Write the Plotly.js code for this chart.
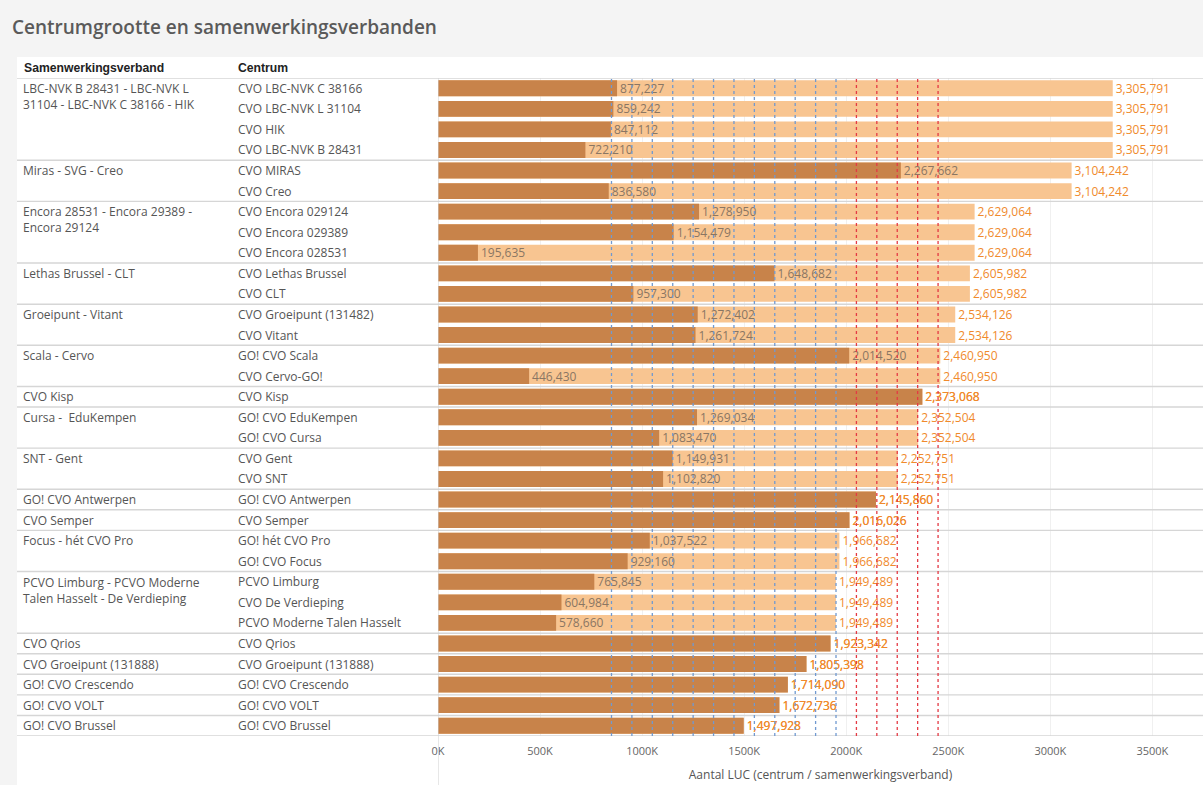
<!DOCTYPE html>
<html>
<head>
<meta charset="utf-8">
<script src="https://cdn.plot.ly/plotly-3.0.1.min.js"></script>
<style>
  html, body { margin: 0; padding: 0; background: #f4f4f4; }
  #chart { width: 1203px; height: 785px; }
</style>
</head>
<body>
<div id="chart"></div>
<script>
// ---------- DATA ----------
const chartTitle = "Centrumgrootte en samenwerkingsverbanden";
const headerVerband = "Samenwerkingsverband";
const headerCentrum = "Centrum";
const axisTitle = "Aantal LUC (centrum / samenwerkingsverband)";

const verband = [
  "LBC-NVK B 28431 - LBC-NVK L 31104 - LBC-NVK C 38166 - HIK",
  "LBC-NVK B 28431 - LBC-NVK L 31104 - LBC-NVK C 38166 - HIK",
  "LBC-NVK B 28431 - LBC-NVK L 31104 - LBC-NVK C 38166 - HIK",
  "LBC-NVK B 28431 - LBC-NVK L 31104 - LBC-NVK C 38166 - HIK",
  "Miras - SVG - Creo",
  "Miras - SVG - Creo",
  "Encora 28531 - Encora 29389 - Encora 29124",
  "Encora 28531 - Encora 29389 - Encora 29124",
  "Encora 28531 - Encora 29389 - Encora 29124",
  "Lethas Brussel - CLT",
  "Lethas Brussel - CLT",
  "Groeipunt - Vitant",
  "Groeipunt - Vitant",
  "Scala - Cervo",
  "Scala - Cervo",
  "CVO Kisp",
  "Cursa -  EduKempen",
  "Cursa -  EduKempen",
  "SNT - Gent",
  "SNT - Gent",
  "GO! CVO Antwerpen",
  "CVO Semper",
  "Focus - hét CVO Pro",
  "Focus - hét CVO Pro",
  "PCVO Limburg - PCVO Moderne Talen Hasselt - De Verdieping",
  "PCVO Limburg - PCVO Moderne Talen Hasselt - De Verdieping",
  "PCVO Limburg - PCVO Moderne Talen Hasselt - De Verdieping",
  "CVO Qrios",
  "CVO Groeipunt (131888)",
  "GO! CVO Crescendo",
  "GO! CVO VOLT",
  "GO! CVO Brussel"
];

const centrum = [
  "CVO LBC-NVK C 38166",
  "CVO LBC-NVK L 31104",
  "CVO HIK",
  "CVO LBC-NVK B 28431",
  "CVO MIRAS",
  "CVO Creo",
  "CVO Encora 029124",
  "CVO Encora 029389",
  "CVO Encora 028531",
  "CVO Lethas Brussel",
  "CVO CLT",
  "CVO Groeipunt (131482)",
  "CVO Vitant",
  "GO! CVO Scala",
  "CVO Cervo-GO!",
  "CVO Kisp",
  "GO! CVO EduKempen",
  "GO! CVO Cursa",
  "CVO Gent",
  "CVO SNT",
  "GO! CVO Antwerpen",
  "CVO Semper",
  "GO! hét CVO Pro",
  "GO! CVO Focus",
  "PCVO Limburg",
  "CVO De Verdieping",
  "PCVO Moderne Talen Hasselt",
  "CVO Qrios",
  "CVO Groeipunt (131888)",
  "GO! CVO Crescendo",
  "GO! CVO VOLT",
  "GO! CVO Brussel"
];

const centrumLUC = [
  877227, 859242, 847112, 722210,
  2267662, 836580,
  1278950, 1154479, 195635,
  1648682, 957300,
  1272402, 1261724,
  2014520, 446430,
  2373068,
  1269034, 1083470,
  1149931, 1102820,
  2145860,
  2016026,
  1037522, 929160,
  765845, 604984, 578660,
  1923342,
  1805398,
  1714090,
  1672736,
  1497928
];

const verbandLUC = [
  3305791, 3305791, 3305791, 3305791,
  3104242, 3104242,
  2629064, 2629064, 2629064,
  2605982, 2605982,
  2534126, 2534126,
  2460950, 2460950,
  2373068,
  2352504, 2352504,
  2252751, 2252751,
  2145860,
  2016026,
  1966682, 1966682,
  1949489, 1949489, 1949489,
  1923342,
  1805398,
  1714090,
  1672736,
  1497928
];

const tickValues = [0, 500000, 1000000, 1500000, 2000000, 2500000, 3000000, 3500000];
const tickLabels = ["0K", "500K", "1000K", "1500K", "2000K", "2500K", "3000K", "3500K"];

const blueRefLines = [850000, 950000, 1050000, 1150000, 1250000, 1350000, 1450000, 1550000, 1650000, 1750000, 1850000, 1950000];
const redRefLines = [2050000, 2150000, 2250000, 2350000, 2450000];

// ---------- STYLE / GEOMETRY ----------
const W = 1203, H = 785, ML = 438, MR = 0, MT = 78, MB = 49;
const PW = W - ML - MR, PH = H - MT - MB;
const fx = px => (px - ML) / PW;
const fy = py => (H - MB - py) / PH;

const FONT = "Open Sans, Noto Sans, sans-serif";
const darkBar = "#c8834a";
const lightBar = "#f8c591";
const darkLabel = "#8a7663";
const orangeLabel = "#f08a2c";
const sepColor = "#d6d6d6";
const rowText = "#555555";

const idx = centrum.map((_, i) => i);
const fmt = v => v.toLocaleString("en-US");
const single = centrumLUC.map((v, i) => v === verbandLUC[i]);

function wrap(str, maxChars) {
  const words = str.split(" ");
  const lines = [];
  let cur = "";
  words.forEach(w => {
    const cand = cur === "" ? w : cur + " " + w;
    if (cand.length > maxChars && cur !== "") { lines.push(cur); cur = w; }
    else cur = cand;
  });
  if (cur !== "") lines.push(cur);
  return lines.join("<br>");
}

// ---------- TRACES ----------
const totalTrace = {
  type: "bar", orientation: "h",
  y: idx, x: verbandLUC,
  width: 0.77,
  marker: { color: lightBar, line: { width: 0 } },
  text: verbandLUC.map(fmt),
  textposition: "outside",
  constraintext: "none",
  cliponaxis: false,
  textfont: { family: FONT, size: 12, color: orangeLabel },
  hoverinfo: "skip"
};

const centrumTrace = {
  type: "bar", orientation: "h",
  y: idx, x: centrumLUC,
  width: 0.77,
  marker: { color: darkBar, line: { width: 0 } },
  text: centrumLUC.map(fmt),
  textposition: "outside",
  constraintext: "none",
  cliponaxis: false,
  textfont: { family: FONT, size: 12, color: single.map(s => s ? orangeLabel : darkLabel) },
  hoverinfo: "skip"
};

// ---------- SHAPES ----------
const shapes = [];
shapes.push({ type: "rect", xref: "paper", yref: "paper", x0: fx(17), x1: fx(W + 5), y0: fy(H + 5), y1: fy(57),
  fillcolor: "#ffffff", line: { width: 0 }, layer: "below" });
shapes.push({ type: "line", xref: "paper", yref: "y", x0: fx(17), x1: fx(W + 5), y0: -0.5, y1: -0.5,
  line: { color: sepColor, width: 1.4 }, layer: "above" });
shapes.push({ type: "line", xref: "paper", yref: "y", x0: fx(17), x1: fx(W + 5), y0: idx.length - 0.5, y1: idx.length - 0.5,
  line: { color: sepColor, width: 1.4 }, layer: "above" });
for (let i = 1; i < verband.length; i++) {
  if (verband[i] !== verband[i - 1]) {
    shapes.push({ type: "line", xref: "paper", yref: "y", x0: fx(17), x1: fx(W + 5), y0: i - 0.5, y1: i - 0.5,
      line: { color: sepColor, width: 1.4 }, layer: "above" });
  }
}
blueRefLines.forEach(v => shapes.push({ type: "line", xref: "x", yref: "paper", x0: v, x1: v, y0: 0, y1: 1,
  line: { color: "#7099d0", width: 1.3, dash: "dot" }, layer: "above" }));
redRefLines.forEach(v => shapes.push({ type: "line", xref: "x", yref: "paper", x0: v, x1: v, y0: 0, y1: 1,
  line: { color: "#e43a44", width: 1.3, dash: "dot" }, layer: "above" }));
shapes.push({ type: "line", xref: "x", yref: "paper", x0: 0, x1: 0, y0: fy(H + 5), y1: 1,
  line: { color: "#cfcfcf", width: 1 }, layer: "above" });

// ---------- ANNOTATIONS ----------
const annotations = [];
annotations.push({ xref: "paper", yref: "paper", x: fx(10), y: fy(27), xanchor: "left", yanchor: "middle",
  text: chartTitle, showarrow: false, font: { family: FONT, size: 19, color: "#5a5a5a", weight: 600 } });
annotations.push({ xref: "paper", yref: "paper", x: fx(22), y: fy(68), xanchor: "left", yanchor: "middle",
  text: headerVerband, showarrow: false, font: { family: "Liberation Sans, Arial, sans-serif", size: 12.2, color: "#222", weight: "bold" } });
annotations.push({ xref: "paper", yref: "paper", x: fx(236), y: fy(68), xanchor: "left", yanchor: "middle",
  text: headerCentrum, showarrow: false, font: { family: "Liberation Sans, Arial, sans-serif", size: 12.2, color: "#222", weight: "bold" } });

verband.forEach((g, i) => {
  if (i === 0 || g !== verband[i - 1]) {
    annotations.push({ xref: "paper", yref: "y", x: fx(22), y: i - 0.5, xanchor: "left", yanchor: "top", yshift: -1,
      align: "left", borderpad: 0,
      text: wrap(g, 30), showarrow: false, font: { family: FONT, size: 12, color: rowText } });
  }
});
centrum.forEach((c, i) => {
  annotations.push({ xref: "paper", yref: "y", x: fx(236), y: i, xanchor: "left", yanchor: "middle",
    text: c, showarrow: false, font: { family: FONT, size: 12, color: rowText } });
});

// ---------- LAYOUT ----------
const layout = {
  width: W, height: H,
  margin: { l: ML, r: MR, t: MT, b: MB, pad: 0 },
  paper_bgcolor: "#f4f4f4",
  plot_bgcolor: "rgba(0,0,0,0)",
  barmode: "overlay",
  showlegend: false,
  xaxis: {
    range: [0, 3748000],
    tickvals: tickValues, ticktext: tickLabels,
    tickfont: { family: FONT, size: 11, color: "#666" },
    ticklabelstandoff: 7,
    showgrid: true, gridcolor: "#f0f0f0", gridwidth: 1,
    zeroline: false, showline: false, ticks: "",
    title: { text: axisTitle, font: { family: FONT, size: 12, color: "#555" }, standoff: 13 },
    fixedrange: true
  },
  yaxis: {
    range: [idx.length - 0.5, -0.5],
    showticklabels: false, showgrid: false, zeroline: false, showline: false, ticks: "",
    fixedrange: true
  },
  shapes: shapes,
  annotations: annotations,
  font: { family: FONT }
};

Plotly.newPlot("chart", [totalTrace, centrumTrace], layout, { displayModeBar: false, staticPlot: true });
</script>
</body>
</html>
